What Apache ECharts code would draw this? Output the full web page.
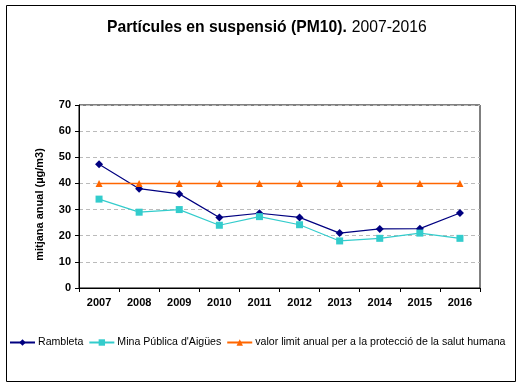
<!DOCTYPE html>
<html><head><meta charset="utf-8">
<script src="https://cdn.jsdelivr.net/npm/echarts@6/dist/echarts.min.js"></script>
<style>html,body{margin:0;padding:0;background:#fff}#c{width:524px;height:388px}</style>
</head><body><div id="c"></div>
<script>
var years = ['2007','2008','2009','2010','2011','2012','2013','2014','2015','2016'];
var rambleta = [47.3, 38, 36, 27, 28.6, 27, 21, 22.6, 22.7, 28.7];
var mina = [34, 29, 30, 24, 27.3, 24.2, 18, 19, 21, 19];
var limit = [40, 40, 40, 40, 40, 40, 40, 40, 40, 40];
var seriesNames = ['Rambleta', "Mina Pública d'Aigües", 'valor limit anual per a la protecció de la salut humana'];
var FONT = 'Liberation Sans, Arial, sans-serif';
var chart = echarts.init(document.getElementById('c'));
chart.setOption({
  animation: false,
  textStyle: {fontFamily: FONT},
  graphic: [{type:'rect', shape:{x:6.5,y:5.5,width:509,height:376}, style:{fill:null, stroke:'#000', lineWidth:1}, silent:true}],
  title: {
    text: '{b|Partícules en suspensió (PM10).} {n|2007-2016}',
    left: 102, top: 14,
    textStyle: {rich: {
      b: {fontFamily: FONT, fontSize: 15.7, fontWeight: 'bold', color: '#000'},
      n: {fontFamily: FONT, fontSize: 15.7, fontWeight: 'normal', color: '#000'}
    }}
  },
  legend: {
    left: 9, top: 337, width: 515, padding: 0, itemGap: 5, itemWidth: 25, itemHeight: 8,
    textStyle: {fontFamily: FONT, fontSize: 10.6, color: '#000', padding: [0,0,0,-2]},
    data: seriesNames
  },
  grid: {left: 79, top: 105, width: 401, height: 183, show: true, borderColor: '#000', borderWidth: 1, containLabel: false},
  xAxis: {
    type: 'category', data: years, boundaryGap: true,
    axisLine: {lineStyle: {color: '#000'}},
    axisTick: {show: true, alignWithLabel: false, length: 4, lineStyle: {color: '#000'}},
    axisLabel: {fontFamily: FONT, fontSize: 11, fontWeight: 'bold', color: '#000', margin: 9},
    splitLine: {show: false}
  },
  yAxis: {
    type: 'value', min: 0, max: 70, interval: 10,
    name: 'mitjana anual (µg/m3)', nameLocation: 'middle', nameGap: 34, nameRotate: 90,
    nameTextStyle: {fontFamily: FONT, fontSize: 11, fontWeight: 'bold', color: '#000', padding: [0,0,0,-16]},
    axisLine: {show: true, lineStyle: {color: '#000'}},
    axisTick: {show: true, length: 4, lineStyle: {color: '#000'}},
    axisLabel: {fontFamily: FONT, fontSize: 11, fontWeight: 'bold', color: '#000', margin: 8},
    splitLine: {show: true, lineStyle: {color: '#bbb', type: [4,3], width: 1}}
  },
  series: [
    {name: seriesNames[0], type: 'line', data: rambleta, symbol: 'diamond', symbolSize: 8,
     lineStyle: {color: '#000080', width: 1.2}, itemStyle: {color: '#000080'}},
    {name: seriesNames[1], type: 'line', data: mina, symbol: 'rect', symbolSize: 7,
     lineStyle: {color: '#33CCCC', width: 1.2}, itemStyle: {color: '#33CCCC'}},
    {name: seriesNames[2], type: 'line', data: limit, symbol: 'triangle', symbolSize: 7,
     lineStyle: {color: '#FF6600', width: 1.5}, itemStyle: {color: '#FF6600'}}
  ]
});
</script></body></html>
